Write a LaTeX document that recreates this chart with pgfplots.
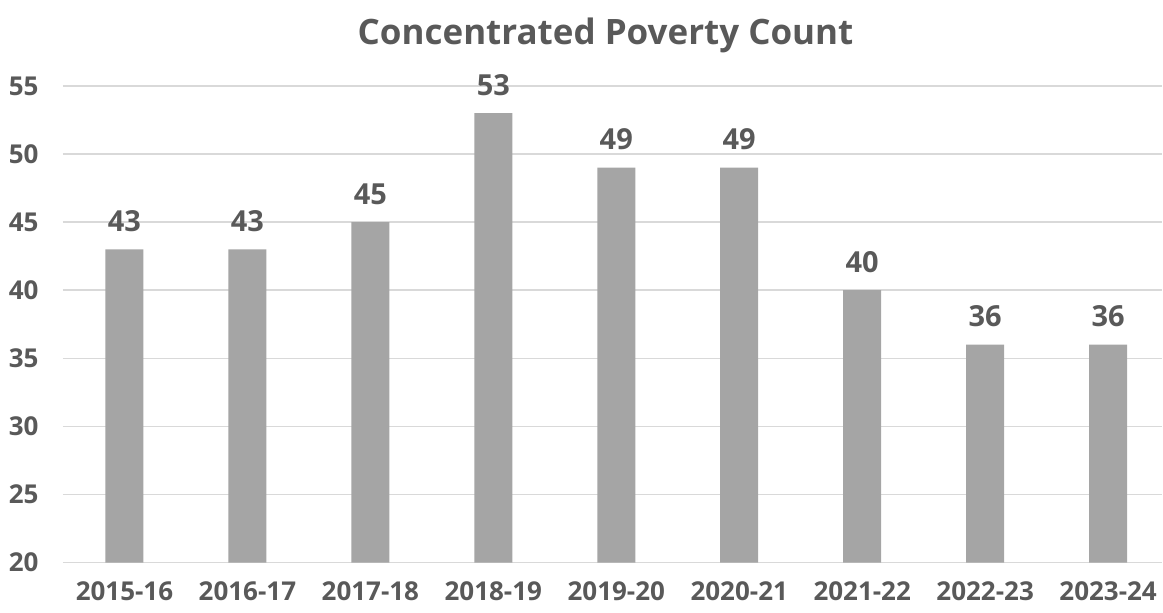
\documentclass[border=0pt]{standalone}
\usepackage{pgfplots}
\pgfplotsset{compat=1.18}
\usepackage{fontspec}
\setmainfont{Open Sans}[BoldFont={* Bold}]
\definecolor{barfill}{HTML}{A5A5A5}
\definecolor{txt}{HTML}{595959}
\definecolor{gridc}{HTML}{D9D9D9}
\begin{document}
\begin{tikzpicture}[x=1pt,y=1pt]
\path (0,0) rectangle (1163,613);
\begin{axis}[
  at={(63pt,50pt)}, anchor=south west,
  scale only axis, width=1100pt, height=477pt,
  xmin=-0.5, xmax=8.44,
  ymin=20, ymax=55,
  ytick={20,25,...,55},
  xtick={0,...,8},
  xticklabels={2015-16,2016-17,2017-18,2018-19,2019-20,2020-21,2021-22,2022-23,2023-24},
  axis line style={draw=none},
  major tick length=0pt,
  ymajorgrids, xmajorgrids=false,
  grid style={draw=gridc, line width=1.6pt},
  tick label style={font=\fontsize{26}{26}\selectfont\bfseries, text=txt},
  /pgf/number format/assume math mode=true,
  yticklabel style={xshift=-21pt},
  xticklabel style={yshift=-16pt},
  clip=false,
  nodes near coords,
  nodes near coords style={font=\fontsize{29}{29}\selectfont\bfseries, text=txt, anchor=south, yshift=14pt},
]
\draw[draw=gridc, line width=1.6pt] (axis cs:-0.5,20) -- (axis cs:8.44,20);
\addplot[ybar, bar width=38pt, fill=barfill, draw=none] coordinates {
  (0,43) (1,43) (2,45) (3,53) (4,49) (5,49) (6,40) (7,36) (8,36)
};
\end{axis}
\node[font=\fontsize{35}{35}\selectfont\bfseries, text=txt] at (606,578) {Concentrated Poverty Count};
\end{tikzpicture}
\end{document}
